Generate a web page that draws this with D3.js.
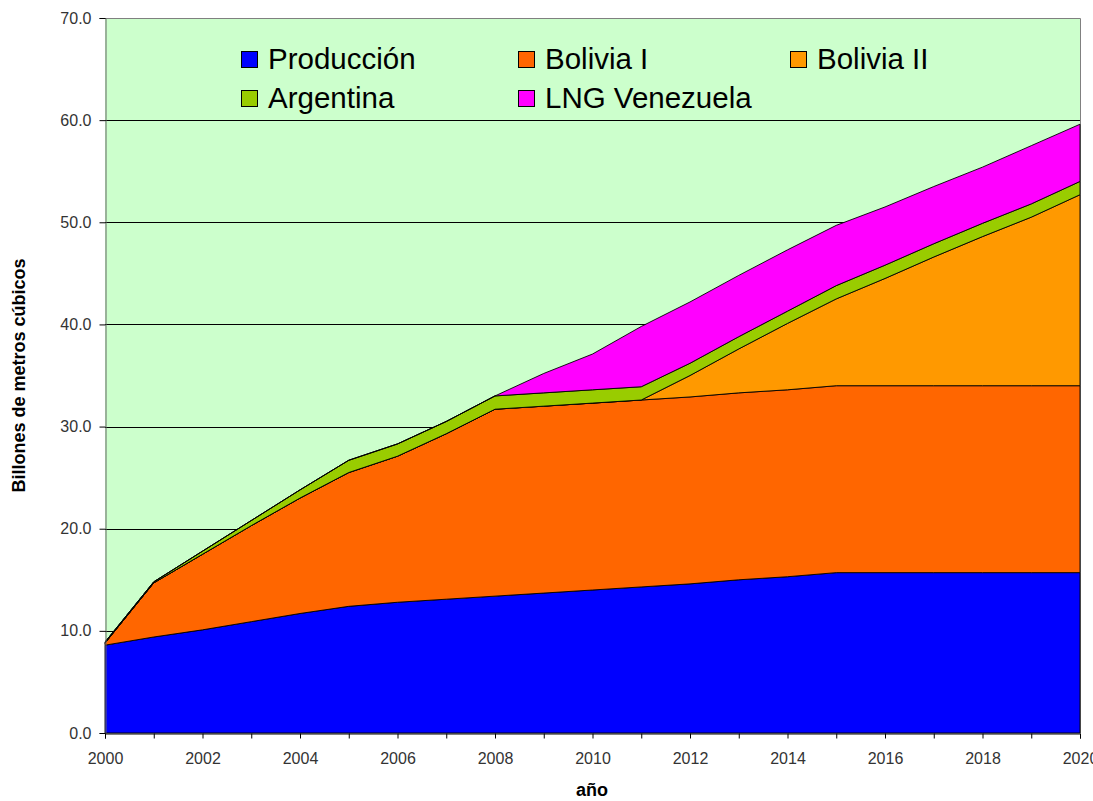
<!DOCTYPE html>
<html>
<head>
<meta charset="utf-8">
<script src="https://cdn.jsdelivr.net/npm/d3@7"></script>
<style>
  html, body { margin: 0; padding: 0; background: #fff; }
  svg { display: block; }
  text { font-family: "Liberation Sans", Arial, sans-serif; }
</style>
</head>
<body>
<svg id="chart" width="1093" height="801"></svg>
<script>
const years = [2000,2001,2002,2003,2004,2005,2006,2007,2008,2009,2010,2011,2012,2013,2014,2015,2016,2017,2018,2019,2020];
const produccion = [8.6,9.4,10.1,10.9,11.7,12.4,12.8,13.1,13.4,13.7,14.0,14.3,14.6,15.0,15.3,15.7,15.7,15.7,15.7,15.7,15.7];
const boliviaI   = [0.2,5.3,7.4,9.4,11.3,13.1,14.3,16.2,18.3,18.3,18.3,18.3,18.3,18.3,18.3,18.3,18.3,18.3,18.3,18.3,18.3];
const boliviaII  = [0,0,0,0,0,0,0,0,0,0,0,0,2.1,4.3,6.5,8.5,10.5,12.6,14.6,16.5,18.7];
const argentina  = [0.1,0.1,0.3,0.5,0.8,1.2,1.2,1.2,1.3,1.3,1.3,1.3,1.2,1.2,1.2,1.3,1.3,1.3,1.3,1.3,1.3];
const lngVenezuela = [0,0,0,0,0,0,0,0,0,1.9,3.5,5.9,6.0,6.0,6.0,5.9,5.7,5.6,5.5,5.7,5.6];

const seriesNames = ["Producción","Bolivia I","Bolivia II","Argentina","LNG Venezuela"];
const seriesColors = ["#0000FF","#FF6600","#FF9900","#99CC00","#FF00FF"];
const yTicks = [0,10,20,30,40,50,60,70];
const xLabelYears = [2000,2002,2004,2006,2008,2010,2012,2014,2016,2018,2020];

const seriesValues = [produccion, boliviaI, boliviaII, argentina, lngVenezuela];
const table = years.map((yr, i) => {
  const row = { year: yr };
  seriesNames.forEach((n, k) => row[n] = seriesValues[k][i]);
  return row;
});

const svg = d3.select("#chart");
const pLeft = 105, pRight = 1080, pTop = 18, pBottom = 733;

const x = d3.scaleLinear().domain([2000, 2020]).range([pLeft, pRight]);
const y = d3.scaleLinear().domain([0, 70]).range([pBottom, pTop]);

// plot background
svg.append("rect")
  .attr("x", pLeft).attr("y", pTop)
  .attr("width", pRight - pLeft).attr("height", pBottom - pTop)
  .attr("fill", "#CCFFCC");

// gridlines
svg.append("g").selectAll("line")
  .data(yTicks.filter(t => t > 0 && t < 70))
  .join("line")
  .attr("x1", pLeft).attr("x2", pRight)
  .attr("y1", d => Math.round(y(d)) + 0.5).attr("y2", d => Math.round(y(d)) + 0.5)
  .attr("stroke", "#000").attr("stroke-width", 1);

// plot border top/right
svg.append("path")
  .attr("d", `M${pLeft},${pTop + 0.5}H${pRight + 0.5}V${pBottom}`)
  .attr("fill", "none").attr("stroke", "#808080").attr("stroke-width", 1);

// stacked areas
const stack = d3.stack().keys(seriesNames);
const stacked = stack(table);
const area = d3.area()
  .x(d => x(d.data.year))
  .y0(d => y(d[0]))
  .y1(d => y(d[1]));

svg.append("g").selectAll("path")
  .data(stacked)
  .join("path")
  .attr("d", area)
  .attr("fill", (d, i) => seriesColors[i])
  .attr("stroke", "#000")
  .attr("stroke-width", 0.9)
  .attr("stroke-linejoin", "miter");

// y axis
const yAxis = d3.axisLeft(y).tickValues(yTicks).tickFormat(d3.format(".1f")).tickSizeOuter(0).tickSize(6).tickPadding(8);
const gy = svg.append("g").attr("transform", `translate(${pLeft + 0.5},0)`).call(yAxis);
gy.select(".domain").attr("stroke", "#666");
gy.selectAll(".tick line").attr("stroke", "#000");
gy.selectAll("text").attr("font-size", 16).attr("fill", "#333").attr("font-family", "Liberation Sans, Arial, sans-serif");

// x axis
const xAxis = d3.axisBottom(x).tickValues(years).tickFormat(d => xLabelYears.includes(d) ? String(d) : "").tickSizeOuter(0).tickSize(5).tickPadding(14);
const gx = svg.append("g").attr("transform", `translate(0,${pBottom + 0.5})`).call(xAxis);
gx.select(".domain").attr("stroke", "#000");
gx.selectAll(".tick line").attr("stroke", "#000");
gx.selectAll("text").attr("font-size", 16).attr("fill", "#333").attr("font-family", "Liberation Sans, Arial, sans-serif");

// axis titles
svg.append("text")
  .attr("transform", `translate(25,${(pTop + pBottom) / 2}) rotate(-90)`)
  .attr("text-anchor", "middle")
  .attr("font-size", 18).attr("font-weight", "bold").attr("fill", "#000")
  .text("Billones de metros cúbicos");

svg.append("text")
  .attr("x", 592).attr("y", 796)
  .attr("text-anchor", "middle")
  .attr("font-size", 18).attr("font-weight", "bold").attr("fill", "#000")
  .text("año");

// legend
const legendPos = [[241, 51], [518, 51], [790, 51], [241, 90], [518, 90]];
const lg = svg.append("g").selectAll("g")
  .data(seriesNames)
  .join("g")
  .attr("transform", (d, i) => `translate(${legendPos[i][0]},${legendPos[i][1]})`);
lg.append("rect")
  .attr("x", 0.5).attr("y", 0.5).attr("width", 16).attr("height", 16)
  .attr("fill", (d, i) => seriesColors[i]).attr("stroke", "#000").attr("stroke-width", 1);
lg.append("text")
  .attr("x", 27).attr("y", 18)
  .attr("font-size", 29.5).attr("fill", "#000")
  .text(d => d);
</script>
</body>
</html>
